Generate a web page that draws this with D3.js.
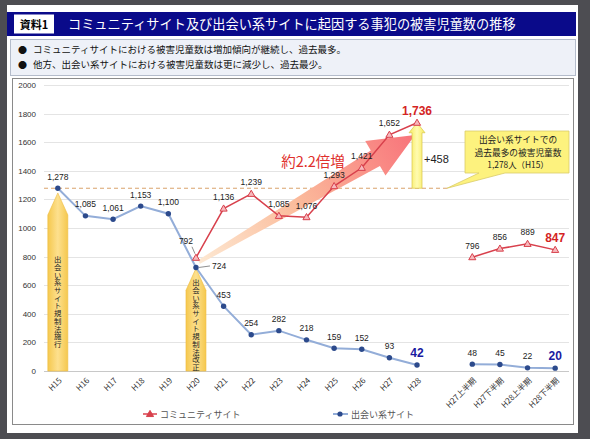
<!DOCTYPE html>
<html lang="ja">
<head>
<meta charset="UTF-8">
<title>被害児童数の推移</title>
<style>
  body { margin: 0; background: #4d4d52; }
  svg { display: block; }
  text { font-family: "Liberation Sans", "Noto Sans CJK JP", sans-serif; }
  .jp { font-family: "Noto Sans CJK JP", sans-serif; }
</style>
</head>
<body>
<div id="graphic"></div>
<script src="https://cdn.jsdelivr.net/npm/d3@7"></script>
<script>
// categories (one empty slot between annual and half-year groups)
var annual = ["H15","H16","H17","H18","H19","H20","H21","H22","H23","H24","H25","H26","H27","H28"];
var halves = ["H27上半期","H27下半期","H28上半期","H28下半期"];
var slots = annual.concat(["_gap"], halves);

// series
var communityAnnual = [null,null,null,null,null,792,1136,1239,1085,1076,1293,1421,1652,1736];
var deaiAnnual = [1278,1085,1061,1153,1100,724,453,254,282,218,159,152,93,42];
var communityHalf = [796,856,889,847];
var deaiHalf = [48,45,22,20];

var yTicks = [0,200,400,600,800,1000,1200,1400,1600,1800,2000];

var titleText = "コミュニティサイト及び出会い系サイトに起因する事犯の被害児童数の推移";
var bullets = ["コミュニティサイトにおける被害児童数は増加傾向が継続し、過去最多。",
               "他方、出会い系サイトにおける被害児童数は更に減少し、過去最少。"];
var calloutLines = ["出会い系サイトでの", "過去最多の被害児童数", "1,278人（H15）"];
var lawArrows = [
  {year: "H15", tip: 1245, textMid: 483, text: "出会い系サイト規制法施行"},
  {year: "H20", tip: 718, textMid: 322, text: "出会い系サイト規制法改正"}
];
var maxDeai = 1278, maxCommunity = 1736;

var width = 590, height = 439;
var red = "#d8404c", navy = "#2c4a8c", blueLine = "#93add8";

var svg = d3.select("#graphic").append("svg")
  .attr("width", width).attr("height", height);

// page + header
svg.append("rect").attr("x", 7).attr("y", 5).attr("width", 571).attr("height", 428).attr("fill", "#fff");
svg.append("rect").attr("x", 7).attr("y", 12).attr("width", 569).attr("height", 24).attr("fill", "#0a0a8a");
svg.append("rect").attr("x", 14).attr("y", 14.5).attr("width", 40).attr("height", 19).attr("fill", "#fff");
svg.append("text").attr("class", "jp").attr("x", 34).attr("y", 28.5).attr("text-anchor", "middle")
  .attr("font-size", 11).attr("font-weight", "bold").attr("fill", "#000").text("資料1");
svg.append("text").attr("class", "jp").attr("x", 68).attr("y", 29).attr("font-size", 13.2)
  .attr("fill", "#fff").text(titleText);

svg.append("rect").attr("x", 10.5).attr("y", 39.5).attr("width", 565).attr("height", 36)
  .attr("fill", "#eef1f8").attr("stroke", "#b4bccb");
bullets.forEach(function(b, i) {
  svg.append("text").attr("class", "jp").attr("x", 18).attr("y", 53 + i * 15).attr("font-size", 9).attr("fill", "#111").text("●");
  svg.append("text").attr("class", "jp").attr("x", 33).attr("y", 53 + i * 15).attr("font-size", 9.5).attr("fill", "#111").text(b);
});

svg.append("rect").attr("x", 12.5).attr("y", 78.5).attr("width", 561).attr("height", 346)
  .attr("fill", "#fff").attr("stroke", "#8a8a8a");

// scales
var x = d3.scalePoint().domain(slots).range([44, 569]).padding(0.5);
var y = d3.scaleLinear().domain([0, 2000]).range([371, 85]);

// grid
svg.append("g").selectAll("line").data(yTicks).join("line")
  .attr("x1", 44).attr("x2", 569)
  .attr("y1", function(d) { return Math.round(y(d)) + 0.5; })
  .attr("y2", function(d) { return Math.round(y(d)) + 0.5; })
  .attr("stroke", function(d) { return d === 0 ? "#c8c8c8" : "#e4e4e4"; });

var yAxis = svg.append("g").attr("transform", "translate(44,0)")
  .call(d3.axisLeft(y).tickValues(yTicks).tickSize(0).tickPadding(8).tickFormat(d3.format("d")));
yAxis.select(".domain").remove();
yAxis.selectAll("text").attr("font-size", 8).attr("fill", "#333")
  .attr("font-family", "Liberation Sans, sans-serif");

var xAxis = svg.append("g").attr("transform", "translate(0,371)")
  .call(d3.axisBottom(x).tickSize(0).tickFormat(function(d) { return d === "_gap" ? "" : d; }));
xAxis.select(".domain").remove();
xAxis.selectAll("text")
  .attr("class", "jp")
  .attr("font-size", 8).attr("fill", "#333")
  .attr("text-anchor", "end")
  .attr("dy", 0).attr("y", 0)
  .attr("transform", "translate(4,10) rotate(-45)");

// dashed max line
svg.append("line")
  .attr("x1", 44).attr("x2", 447)
  .attr("y1", y(maxDeai)).attr("y2", y(maxDeai))
  .attr("stroke", "#d9a26a").attr("stroke-width", 1).attr("stroke-dasharray", "4,3");

// defs
var defs = svg.append("defs");
var gy = defs.append("linearGradient").attr("id", "gold").attr("x1", 0).attr("x2", 1).attr("y1", 0).attr("y2", 0);
gy.append("stop").attr("offset", 0).attr("stop-color", "#f5c84e");
gy.append("stop").attr("offset", 0.5).attr("stop-color", "#fde08e");
gy.append("stop").attr("offset", 1).attr("stop-color", "#f5c84e");

var gl = defs.append("linearGradient").attr("id", "lemon").attr("x1", 0).attr("x2", 1).attr("y1", 0).attr("y2", 0);
gl.append("stop").attr("offset", 0).attr("stop-color", "#f7ea5c");
gl.append("stop").attr("offset", 0.5).attr("stop-color", "#fffbb0");
gl.append("stop").attr("offset", 1).attr("stop-color", "#f7ea5c");

// big growth arrow from H20 to H28
var tail = [x("H20") + 3, y(762)], tip = [x("H28") - 2, y(1650)];
var dx = tip[0] - tail[0], dy = tip[1] - tail[1], len = Math.sqrt(dx * dx + dy * dy);
var u = [dx / len, dy / len], n = [u[1], -u[0]];
var base = [tip[0] - 46 * u[0], tip[1] - 46 * u[1]];
function pt(p, k) { return [p[0] + k * n[0], p[1] + k * n[1]]; }
var bigPts = [pt(tail, 2), pt(base, 9), pt(base, 20), tip, pt(base, -20), pt(base, -9), pt(tail, -2)];
var gb = defs.append("linearGradient").attr("id", "grow").attr("gradientUnits", "userSpaceOnUse")
  .attr("x1", tail[0]).attr("y1", tail[1]).attr("x2", tip[0]).attr("y2", tip[1]);
gb.append("stop").attr("offset", 0).attr("stop-color", "#fde8d2");
gb.append("stop").attr("offset", 0.45).attr("stop-color", "#fbbc9c");
gb.append("stop").attr("offset", 1).attr("stop-color", "#f8737a");
svg.append("path").attr("d", "M" + bigPts.join("L") + "Z").attr("fill", "url(#grow)");

svg.append("text").attr("class", "jp").attr("x", 313).attr("y", 167).attr("text-anchor", "middle")
  .attr("font-size", 14.5).attr("fill", "#e0302c").text("約2.2倍増");

// law arrows (yellow) with vertical text
lawArrows.forEach(function(a) {
  var cx = x(a.year), top = y(a.tip), sh = top + 22, bot = y(0);
  svg.append("path")
    .attr("d", "M" + (cx - 10) + "," + bot + "L" + (cx - 10) + "," + sh + "L" + cx + "," + top +
               "L" + (cx + 10) + "," + sh + "L" + (cx + 10) + "," + bot + "Z")
    .attr("fill", "url(#gold)").attr("stroke", "#efbc40").attr("stroke-width", 0.6);
  svg.append("text")
    .attr("class", "jp")
    .attr("x", cx).attr("y", y(a.textMid))
    .style("writing-mode", "vertical-rl")
    .attr("text-anchor", "middle")
    .attr("letter-spacing", 0.3)
    .attr("font-size", 7.4).attr("fill", "#222")
    .text(a.text);
});

// +458 arrow
(function() {
  var cx = x("H28"), bot = y(maxDeai), top = y(maxCommunity), sh = top + 10;
  svg.append("path")
    .attr("d", "M" + (cx - 5) + "," + bot + "L" + (cx - 5) + "," + sh + "L" + (cx - 8) + "," + sh +
               "L" + cx + "," + top + "L" + (cx + 8) + "," + sh + "L" + (cx + 5) + "," + sh +
               "L" + (cx + 5) + "," + bot + "Z")
    .attr("fill", "url(#lemon)").attr("stroke", "#d8c64a").attr("stroke-width", 0.7);
  svg.append("text").attr("x", cx + 7).attr("y", (bot + top) / 2 + 8).attr("font-size", 11)
    .attr("fill", "#222").text("+" + (maxCommunity - maxDeai));
})();

// callout
(function() {
  var bx = 465, by = 131, bw = 104, bh = 42, px = 447, py = y(maxDeai);
  svg.append("path")
    .attr("d", "M" + bx + "," + by + "H" + (bx + bw) + "V" + (by + bh) + "H" + (bx + 40) +
               "L" + px + "," + py + "L" + (bx + 14) + "," + (by + bh) + "H" + bx + "Z")
    .attr("fill", "#fdf27e").attr("stroke", "#d9cc6a").attr("stroke-width", 0.8);
  calloutLines.forEach(function(t, i) {
    svg.append("text").attr("class", "jp").attr("x", bx + bw / 2 + 1).attr("y", by + 12 + i * 12.7)
      .attr("text-anchor", "middle").attr("font-size", i === 2 ? 8.4 : 8.7).attr("fill", "#222").text(t);
  });
})();

// series data
var comA = annual.map(function(k, i) { return {k: k, v: communityAnnual[i]}; }).filter(function(d) { return d.v != null; });
var comH = halves.map(function(k, i) { return {k: k, v: communityHalf[i]}; });
var deA = annual.map(function(k, i) { return {k: k, v: deaiAnnual[i]}; });
var deH = halves.map(function(k, i) { return {k: k, v: deaiHalf[i]}; });

var line = d3.line().x(function(d) { return x(d.k); }).y(function(d) { return y(d.v); });
var tri = d3.symbol().type(d3.symbolTriangle).size(22);

[deA, deH].forEach(function(s) {
  svg.append("path").datum(s).attr("d", line).attr("fill", "none").attr("stroke", blueLine).attr("stroke-width", 2);
});
[comA, comH].forEach(function(s) {
  svg.append("path").datum(s).attr("d", line).attr("fill", "none").attr("stroke", red).attr("stroke-width", 1.5);
});
svg.append("g").selectAll("circle").data(deA.concat(deH)).join("circle")
  .attr("cx", function(d) { return x(d.k); }).attr("cy", function(d) { return y(d.v); })
  .attr("r", 2.7).attr("fill", navy);
svg.append("g").selectAll("path").data(comA.concat(comH)).join("path")
  .attr("d", tri)
  .attr("transform", function(d) { return "translate(" + x(d.k) + "," + (y(d.v) + 0.5) + ")"; })
  .attr("fill", "#f6b8bc").attr("stroke", red).attr("stroke-width", 1);

// value labels
var fmt = d3.format(",");
function labels(s, strong, color) {
  svg.append("g").selectAll("text").data(s).join("text")
    .attr("x", function(d) { return x(d.k); })
    .attr("y", function(d) { return y(d.v) - (d.k === strong ? 8 : 8.5); })
    .attr("text-anchor", "middle")
    .attr("font-size", function(d) { return d.k === strong ? 12 : 8.5; })
    .attr("font-weight", function(d) { return d.k === strong ? "bold" : "normal"; })
    .attr("fill", function(d) { return d.k === strong ? color : "#222"; })
    .text(function(d) { return fmt(d.v); });
}
labels(comA.filter(function(d) { return d.k !== "H20"; }), "H28", "#d42424");
labels(comH, "H28下半期", "#d42424");
labels(deA.filter(function(d) { return d.k !== "H20"; }), "H28", "#1a1aa0");
labels(deH, "H28下半期", "#1a1aa0");

// H20 labels with leaders
(function() {
  var cx = x("H20"), yc = y(communityAnnual[5]), yd = y(deaiAnnual[5]);
  svg.append("line").attr("x1", cx - 4).attr("y1", yc - 11).attr("x2", cx - 1).attr("y2", yc - 4)
    .attr("stroke", "#444").attr("stroke-width", 0.6);
  svg.append("text").attr("x", cx - 10).attr("y", yc - 14).attr("text-anchor", "middle")
    .attr("font-size", 8.5).attr("fill", "#222").text(communityAnnual[5]);
  svg.append("line").attr("x1", cx + 3).attr("y1", yd).attr("x2", cx + 14).attr("y2", yd - 1.5)
    .attr("stroke", "#444").attr("stroke-width", 0.6);
  svg.append("text").attr("x", cx + 16).attr("y", yd + 1.5)
    .attr("font-size", 8.5).attr("fill", "#222").text(deaiAnnual[5]);
})();

// legend
var lg = svg.append("g").attr("transform", "translate(0,414)");
lg.append("line").attr("x1", 143).attr("x2", 157).attr("stroke", red).attr("stroke-width", 1.5);
lg.append("path").attr("d", tri).attr("transform", "translate(150,0.5)").attr("fill", red).attr("stroke", red);
lg.append("text").attr("class", "jp").attr("x", 160).attr("y", 3.5).attr("font-size", 9).attr("fill", "#555").text("コミュニティサイト");
lg.append("line").attr("x1", 333).attr("x2", 348).attr("stroke", blueLine).attr("stroke-width", 2);
lg.append("circle").attr("cx", 340).attr("r", 2.6).attr("fill", navy);
lg.append("text").attr("class", "jp").attr("x", 351).attr("y", 3.5).attr("font-size", 9).attr("fill", "#555").text("出会い系サイト");
</script>
</body>
</html>
